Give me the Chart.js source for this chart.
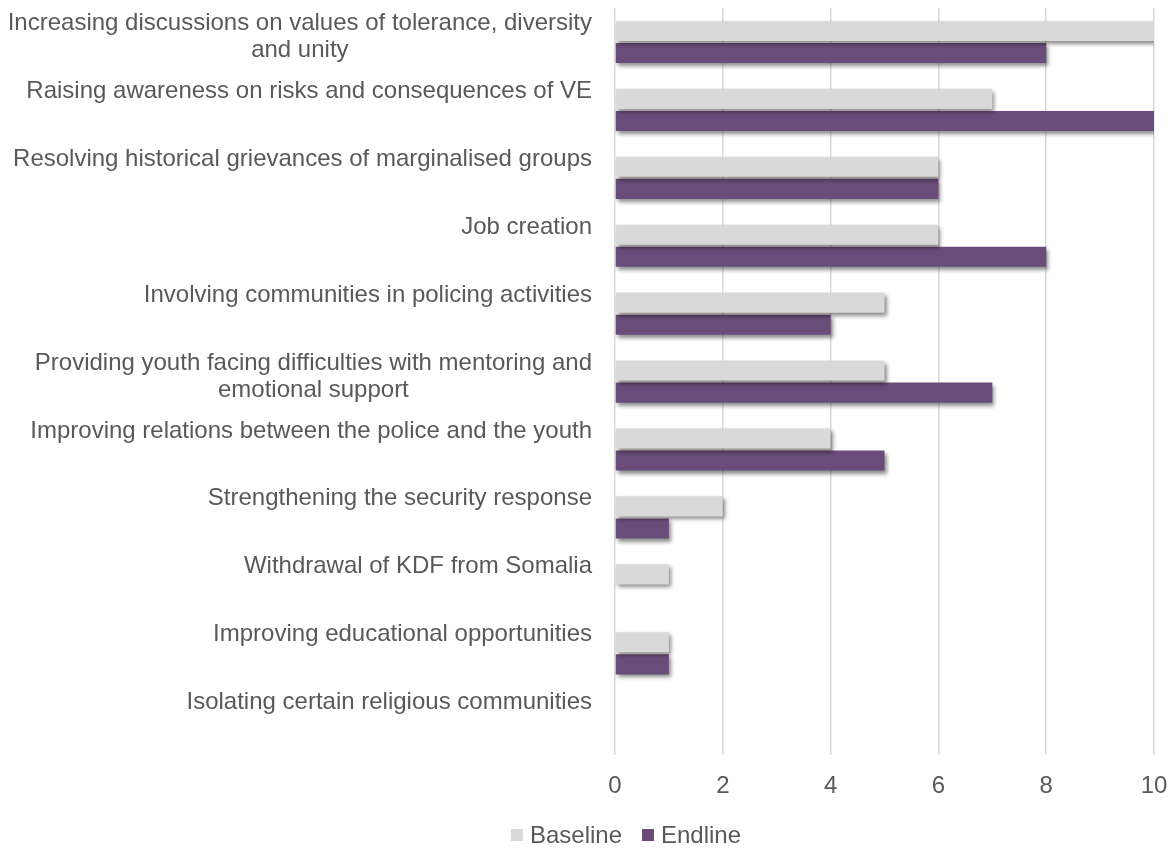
<!DOCTYPE html>
<html>
<head>
<meta charset="utf-8">
<script src="https://cdn.jsdelivr.net/npm/chart.js@4"></script>
<style>
  html, body { margin: 0; padding: 0; background: #fff; }
  #wrap { width: 1174px; height: 848px; }
</style>
</head>
<body>
<div id="wrap"><canvas id="chart"></canvas></div>
<script>
const categories = [
  ['Increasing discussions on values of tolerance, diversity', 'and unity'],
  'Raising awareness on risks and consequences of VE',
  'Resolving historical grievances of marginalised groups',
  'Job creation',
  'Involving communities in policing activities',
  ['Providing youth facing difficulties with mentoring and', 'emotional support'],
  'Improving relations between the police and the youth',
  'Strengthening the security response',
  'Withdrawal of KDF from Somalia',
  'Improving educational opportunities',
  'Isolating certain religious communities'
];
const baseline = [10, 7, 6, 6, 5, 5, 4, 2, 1, 1, 0];
const endline = [8, 10, 6, 8, 4, 7, 5, 1, 0, 1, 0];
const xTicks = [0, 2, 4, 6, 8, 10];

const FONT = '24px "Liberation Sans", Arial, sans-serif';
const TEXT = '#595959';

// soft drop shadow under the bars, like the office chart
const barShadow = {
  id: 'barShadow',
  beforeDatasetsDraw(chart) {
    const ctx = chart.ctx;
    ctx.save();
    ctx.shadowColor = 'rgba(0,0,0,0.45)';
    ctx.shadowBlur = 4;
    ctx.shadowOffsetX = 2;
    ctx.shadowOffsetY = 3;
  },
  afterDatasetsDraw(chart) {
    chart.ctx.restore();
  }
};

// category labels: block right aligned, wrapped lines centred in the block
const categoryLabels = {
  id: 'categoryLabels',
  afterDraw(chart) {
    const ctx = chart.ctx, y = chart.scales.y;
    ctx.save();
    ctx.font = FONT;
    ctx.fillStyle = TEXT;
    ctx.textAlign = 'center';
    ctx.textBaseline = 'alphabetic';
    const right = chart.chartArea.left - 23;
    chart.data.labels.forEach((lab, i) => {
      const lines = [].concat(lab);
      const w = Math.max(...lines.map(l => ctx.measureText(l).width));
      const cx = right - w / 2;
      const top = y.getPixelForValue(i) - 12;
      lines.forEach((l, k) => ctx.fillText(l, cx, top + k * 27));
    });
    ctx.restore();
  }
};

const bottomLegend = {
  id: 'bottomLegend',
  afterDraw(chart) {
    const ctx = chart.ctx;
    ctx.save();
    ctx.font = FONT;
    const items = chart.data.datasets.map(d => ({
      text: d.label, color: d.backgroundColor, w: ctx.measureText(d.label).width
    }));
    const box = 12, gap = 7, spacing = 20;
    const total = items.reduce((s, it) => s + box + gap + it.w, 0) + spacing * (items.length - 1);
    let x = 626 - total / 2;
    const base = 843;
    items.forEach(it => {
      ctx.fillStyle = it.color;
      ctx.fillRect(x, base - 14, box, box);
      x += box + gap;
      ctx.fillStyle = TEXT;
      ctx.textAlign = 'left';
      ctx.textBaseline = 'alphabetic';
      ctx.fillText(it.text, x, base);
      x += it.w + spacing;
    });
    ctx.restore();
  }
};

new Chart(document.getElementById('chart'), {
  type: 'bar',
  data: {
    labels: categories,
    datasets: [{
      label: 'Baseline',
      data: baseline,
      backgroundColor: '#d9d9d9',
      categoryPercentage: 0.65,
      barPercentage: 0.91
    }, {
      label: 'Endline',
      data: endline,
      backgroundColor: '#6a4c7a',
      categoryPercentage: 0.65,
      barPercentage: 0.91
    }]
  },
  options: {
    indexAxis: 'y',
    responsive: true,
    maintainAspectRatio: false,
    animation: false,
    layout: { padding: { top: 8, right: 20, bottom: 30, left: 0 } },
    plugins: {
      legend: { display: false },
      tooltip: { enabled: false }
    },
    scales: {
      x: {
        min: 0,
        max: 10,
        afterBuildTicks: s => { s.ticks = xTicks.map(v => ({ value: v })); },
        afterFit: s => { s.paddingLeft = 0; s.paddingRight = 0; },
        grid: { color: '#d9d9d9', lineWidth: 1.5, drawTicks: false },
        border: { display: false },
        ticks: {
          color: TEXT,
          padding: 17,
          font: { family: '"Liberation Sans", Arial, sans-serif', size: 24 }
        }
      },
      y: {
        grid: { display: false },
        border: { display: false },
        ticks: { display: false },
        afterFit: s => { s.width = 615; }
      }
    }
  },
  plugins: [barShadow, categoryLabels, bottomLegend]
});
</script>
</body>
</html>
